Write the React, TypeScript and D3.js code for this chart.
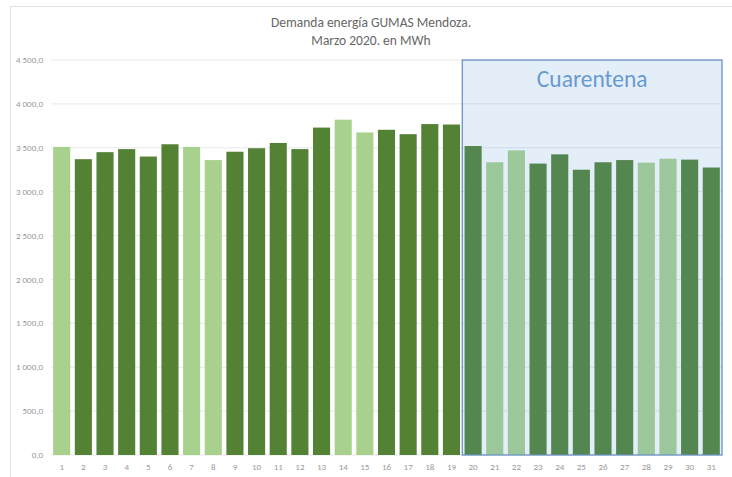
import React from 'react'
import * as d3 from 'd3'

const days = d3.range(1, 32).map(String)
const demand = [
  3510, 3370, 3450, 3485, 3400, 3540, 3510, 3360, 3455, 3495,
  3555, 3485, 3730, 3820, 3675, 3705, 3655, 3770, 3765, 3520,
  3335, 3470, 3320, 3425, 3250, 3335, 3360, 3330, 3375, 3365, 3275,
]
// weekends are drawn in the lighter green
const weekend = ['1', '7', '8', '14', '15', '21', '22', '28', '29']
const yTicks = [0, 500, 1000, 1500, 2000, 2500, 3000, 3500, 4000, 4500]
const quarantineStart = '20'
const titleLines = ['Demanda energía GUMAS Mendoza.', 'Marzo 2020. en MWh']

const width = 732
const height = 477
const margin = {top: 60, right: 10, bottom: 22, left: 51}

const plotW = width - margin.left - margin.right
const plotH = height - margin.top - margin.bottom

const locale = d3.formatLocale({decimal: ',', thousands: ' ', grouping: [3], currency: ['', '']})
const fmt = locale.format(',.1f')

export default function App() {
  const x = d3.scaleBand().domain(days).range([0, plotW]).paddingInner(0.21).paddingOuter(0.1)
  const y = d3.scaleLinear().domain([0, 4500]).range([plotH, 0])

  const gap = x.step() - x.bandwidth()
  const qx = (x(quarantineStart) ?? 0) - gap / 2

  const font = "Calibri, Carlito, 'Open Sans', sans-serif"

  return (
    <div style={{position: 'absolute', left: 0, top: 0}}>
      <svg width={width} height={height} style={{display: 'block', background: '#fff'}}>
        {/* chart frame */}
        <line x1={10} x2={width} y1={6.5} y2={6.5} stroke="#e2e2e2" />
        <line x1={10.5} x2={10.5} y1={6} y2={height} stroke="#e2e2e2" />

        {titleLines.map((t, i) => (
          <text key={i} x={371} y={27 + i * 18} textAnchor="middle" fontSize={13.5}
                fill="#666" fontFamily={font}>{t}</text>
        ))}

        <g transform={`translate(${margin.left}, ${margin.top})`}>
          {yTicks.map(t => (
            <g key={t}>
              <line x1={0} x2={plotW} y1={y(t)} y2={y(t)} stroke="#e8e8e8" />
              <text x={-8} y={y(t)} dy="0.35em" textAnchor="end" fontSize={9}
                    fill="#999" fontFamily={font}>{fmt(t)}</text>
            </g>
          ))}

          {days.map((d, i) => (
            <rect key={d} x={x(d)} y={y(demand[i])} width={x.bandwidth()}
                  height={plotH - y(demand[i])}
                  fill={weekend.includes(d) ? '#a9d18e' : '#548235'} />
          ))}

          {/* quarantine box */}
          <rect x={qx} y={y(4500)} width={plotW - qx} height={plotH - y(4500)}
                fill="rgb(91,155,213)" fillOpacity={0.17} stroke="#6a93c4" strokeWidth={1.3} />
          <text x={qx + (plotW - qx) / 2} y={y(4500) + 27} textAnchor="middle" fontSize={23.5}
                fill="#6a9ad0" fontFamily={font}>Cuarentena</text>

          {days.map(d => (
            <text key={d} x={(x(d) ?? 0) + x.bandwidth() / 2} y={plotH + 12} dy="0.35em"
                  textAnchor="middle" fontSize={9} fill="#999" fontFamily={font}>{d}</text>
          ))}
        </g>
      </svg>
    </div>
  )
}
